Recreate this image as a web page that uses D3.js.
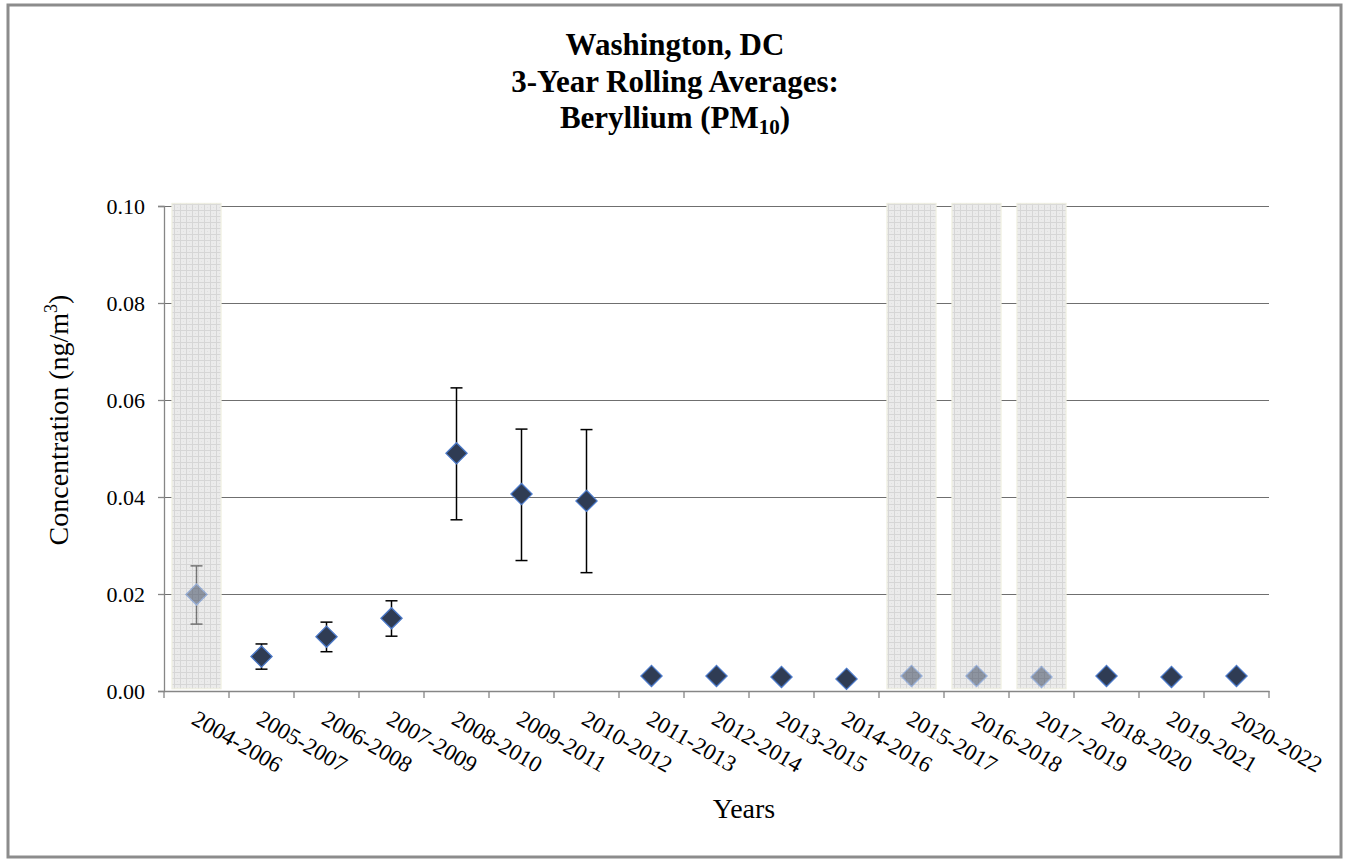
<!DOCTYPE html>
<html>
<head>
<meta charset="utf-8">
<script src="https://cdn.jsdelivr.net/npm/d3@7"></script>
<style>
  body { margin: 0; background: #fff; }
</style>
</head>
<body>
<svg id="chart" width="1346" height="861" font-family="Liberation Serif, Times New Roman, serif"></svg>
<script>
// data
let years = ['2004-2006', '2005-2007', '2006-2008', '2007-2009', '2008-2010', '2009-2011',
  '2010-2012', '2011-2013', '2012-2014', '2013-2015', '2014-2016', '2015-2017',
  '2016-2018', '2017-2019', '2018-2020', '2019-2021', '2020-2022']
let means = [0.0199, 0.0071, 0.0112, 0.0150, 0.0490, 0.0406, 0.0392, 0.0031, 0.0031,
  0.0029, 0.0025, 0.0031, 0.0031, 0.0029, 0.0031, 0.0029, 0.0031]
let errLow = [0.0138, 0.0045, 0.0081, 0.0113, 0.0353, 0.0269, 0.0244, null, null,
  null, null, null, null, null, null, null, null]
let errHigh = [0.0258, 0.0097, 0.0142, 0.0186, 0.0625, 0.0540, 0.0539, null, null,
  null, null, null, null, null, null, null, null]
let shaded = ['2004-2006', '2015-2017', '2016-2018', '2017-2019']
let yTicks = [0, 0.02, 0.04, 0.06, 0.08, 0.10]

const FONT = 'Liberation Serif, Times New Roman, serif'

let svg = d3.select('#chart')

let x = d3.scaleBand().domain(years).range([164, 1269])
let y = d3.scaleLinear().domain([0, 0.1]).range([691, 206])

let rows = years.map((d, i) => ({ year: d, mean: means[i], lo: errLow[i], hi: errHigh[i] }))
let cx = d => x(d) + x.bandwidth() / 2

// hatch pattern for shaded columns
let defs = svg.append('defs')
let pat = defs.append('pattern')
  .attr('id', 'grid')
  .attr('width', 6).attr('height', 6)
  .attr('patternUnits', 'userSpaceOnUse')
pat.append('rect').attr('width', 6).attr('height', 6).attr('fill', '#ebebeb')
pat.append('path').attr('d', 'M0,0.5H6M0.5,0V6')
  .attr('stroke', '#d6d6d6').attr('stroke-width', 1)
pat.append('path').attr('d', 'M3,3.5h1M3.5,3v1')
  .attr('stroke', '#dedede').attr('stroke-width', 0.6)

// outer border
svg.append('rect')
  .attr('x', 8).attr('y', 5)
  .attr('width', 1333).attr('height', 852)
  .attr('fill', '#fff')
  .attr('stroke', '#8c8c8c')
  .attr('stroke-width', 3)

// title
let title = svg.append('text')
  .attr('text-anchor', 'middle')
  .attr('font-family', FONT)
  .attr('font-weight', 'bold')
  .attr('font-size', 31)
title.append('tspan').attr('x', 675).attr('y', 55).text('Washington, DC')
title.append('tspan').attr('x', 675).attr('y', 92).text('3-Year Rolling Averages:')
title.append('tspan').attr('x', 675).attr('y', 128).text('Beryllium (PM')
title.append('tspan').attr('font-size', 21).attr('dy', 6).text('10')
title.append('tspan').attr('dy', -6).text(')')

// gridlines
svg.append('g')
  .attr('transform', 'translate(164,0)')
  .call(d3.axisLeft(y).tickValues(yTicks.slice(1)).tickSize(-(1269 - 164)).tickFormat(''))
  .call(g => g.select('.domain').remove())
  .selectAll('line')
  .attr('stroke', '#6f6f6f')
  .attr('stroke-width', 1)

let bw = x.bandwidth() * 0.75

// shaded columns (opaque base)
svg.append('g').selectAll('rect')
  .data(shaded)
  .enter()
  .append('rect')
  .attr('x', d => x(d) + (x.bandwidth() - bw) / 2)
  .attr('y', y(0.1005))
  .attr('width', bw)
  .attr('height', y(0.0005) - y(0.1005))
  .attr('fill', 'url(#grid)')
  .attr('stroke', '#efefe0')
  .attr('stroke-width', 1.5)

// y axis
let yAxis = svg.append('g')
  .attr('transform', 'translate(164,0)')
  .call(d3.axisLeft(y).tickValues(yTicks).tickSize(6).tickPadding(13).tickFormat(d3.format('.2f')))
yAxis.attr('font-family', FONT).attr('font-size', 22)
yAxis.select('.domain').attr('stroke', '#868686').attr('stroke-width', 1.3)
yAxis.selectAll('line').attr('stroke', '#868686').attr('stroke-width', 1.3)
yAxis.selectAll('text').attr('fill', '#000')

// x axis
let xAxis = svg.append('g')
  .attr('transform', 'translate(0,691)')
  .call(d3.axisBottom(x).tickSize(0).tickSizeOuter(0).tickFormat(''))
xAxis.select('.domain').attr('stroke', '#868686').attr('stroke-width', 1.3)
xAxis.selectAll('.tick').remove()

let bounds = years.map(d => x(d)).concat([x.range()[1]])
xAxis.selectAll('line.bound')
  .data(bounds)
  .enter()
  .append('line')
  .attr('class', 'bound')
  .attr('x1', d => d).attr('x2', d => d)
  .attr('y1', 0).attr('y2', 7)
  .attr('stroke', '#868686')
  .attr('stroke-width', 1.3)

svg.append('g')
  .attr('font-family', FONT)
  .attr('font-size', 23)
  .selectAll('text')
  .data(years)
  .enter()
  .append('text')
  .attr('transform', d => 'translate(' + (cx(d) + 2) + ',709) rotate(30)')
  .attr('dy', '0.72em')
  .text(d => d)

// error bars
let errRows = rows.filter(d => d.lo !== null)
let eb = svg.append('g')
eb.selectAll('line.v')
  .data(errRows)
  .enter()
  .append('line')
  .attr('class', 'v')
  .attr('x1', d => cx(d.year))
  .attr('x2', d => cx(d.year))
  .attr('y1', d => y(d.lo))
  .attr('y2', d => y(d.hi))
  .attr('stroke', '#000').attr('stroke-width', 1.5)
;['lo', 'hi'].forEach(k => {
  eb.selectAll('line.' + k)
    .data(errRows)
    .enter()
    .append('line')
    .attr('class', k)
    .attr('x1', d => cx(d.year) - 6)
    .attr('x2', d => cx(d.year) + 6)
    .attr('y1', d => y(d[k]))
    .attr('y2', d => y(d[k]))
    .attr('stroke', '#000').attr('stroke-width', 1.5)
})

// diamond markers
svg.append('g').selectAll('path')
  .data(rows)
  .enter()
  .append('path')
  .attr('d', d3.symbol().type(d3.symbolDiamond2).size(285))
  .attr('transform', d => 'translate(' + cx(d.year) + ',' + y(d.mean) + ')')
  .attr('fill', '#2f3c54')
  .attr('stroke', '#4a78c8')
  .attr('stroke-width', 1.3)

// shaded columns (translucent overlay on top of markers)
svg.append('g').selectAll('rect')
  .data(shaded)
  .enter()
  .append('rect')
  .attr('x', d => x(d) + (x.bandwidth() - bw) / 2)
  .attr('y', y(0.1005))
  .attr('width', bw)
  .attr('height', y(0.0005) - y(0.1005))
  .attr('fill', 'url(#grid)')
  .attr('opacity', 0.5)

// axis titles
let yl = svg.append('text')
  .attr('transform', 'translate(68,420) rotate(-90)')
  .attr('text-anchor', 'middle')
  .attr('font-family', FONT)
  .attr('font-size', 28)
yl.append('tspan').text('Concentration (ng/m')
yl.append('tspan').attr('font-size', 18).attr('dy', -11).text('3')
yl.append('tspan').attr('dy', 11).text(')')

svg.append('text')
  .attr('x', 744).attr('y', 818)
  .attr('text-anchor', 'middle')
  .attr('font-family', FONT)
  .attr('font-size', 28)
  .text('Years')
</script>
</body>
</html>
